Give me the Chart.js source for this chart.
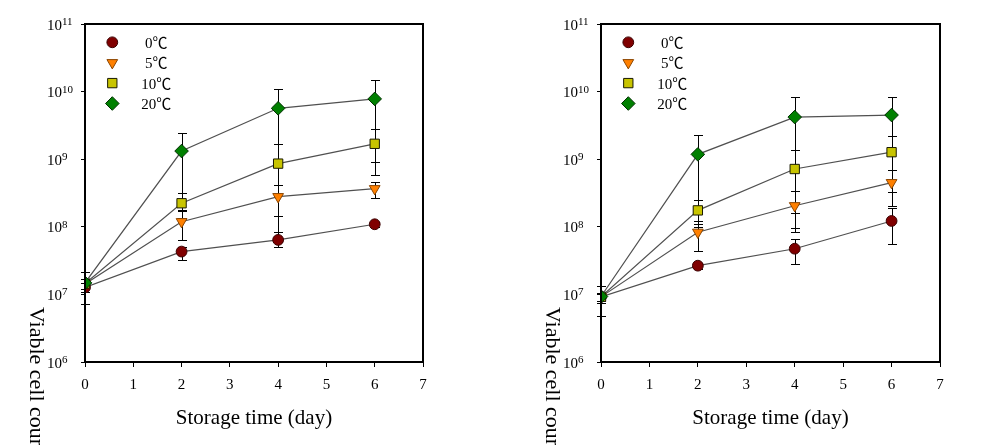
<!DOCTYPE html>
<html><head><meta charset="utf-8">
<script src="https://cdn.jsdelivr.net/npm/chart.js@4.4.0/dist/chart.umd.min.js"></script>
<style>
html,body{margin:0;padding:0;background:#fff;overflow:hidden;width:983px;height:445px}
#cA{position:absolute;left:0;top:0}
#cB{position:absolute;left:490px;top:0}
</style></head><body>
<canvas id="cA" width="490" height="445"></canvas>
<canvas id="cB" width="493" height="445"></canvas>
<script>
// ---------- data ----------
const days = [0, 2, 4, 6];
const seriesNames = ['0\u2103', '5\u2103', '10\u2103', '20\u2103'];
const xTickLabels = ['0', '1', '2', '3', '4', '5', '6', '7'];
const yTickExponents = [6, 7, 8, 9, 10, 11];
const xTitle = 'Storage time (day)';
const yTitle = 'Viable cell count (CFU/g)';

// Panel A (left)
const a0C  = [1.27e7, 4.3e7, 6.4e7, 1.09e8];
const a5C  = [1.43e7, 1.19e8, 2.79e8, 3.66e8];
const a10C = [1.45e7, 2.23e8, 8.6e8, 1.69e9];
const a20C = [1.48e7, 1.32e9, 5.66e9, 7.8e9];
const a0Lo  = [1.1e7, 3.23e7, 5.0e7, 1.0e8];
const a0Hi  = [1.45e7, 5.08e7, 8.3e7, 1.18e8];
const a5Lo  = [1.2e7, 6.4e7, 1.43e8, 2.64e8];
const a5Hi  = [1.7e7, 1.74e8, 4.15e8, 4.66e8];
const a10Lo = [1.2e7, 1.33e8, 6.0e7, 5.9e8];
const a10Hi = [1.7e7, 3.13e8, 1.66e9, 2.79e9];
const a20Lo = [7.2e6, 1.8e8, 4.1e8, 9.0e8];
const a20Hi = [2.17e7, 2.47e9, 1.1e10, 1.49e10];

// Panel B (right)
const b0C  = [9.2e6, 2.66e7, 4.74e7, 1.22e8];
const b5C  = [9.2e6, 8.3e7, 2.05e8, 4.5e8];
const b10C = [9.2e6, 1.75e8, 7.16e8, 1.27e9];
const b20C = [9.3e6, 1.18e9, 4.2e9, 4.5e9];
const b0Lo  = [7.4e6, 2.4e7, 2.8e7, 5.5e7];
const b0Hi  = [1.05e7, 2.9e7, 6.5e7, 1.89e8];
const b5Lo  = [8.0e6, 4.4e7, 9.5e7, 2.0e8];
const b5Hi  = [1.05e7, 1.22e8, 3.35e8, 7.0e8];
const b10Lo = [8.0e6, 1.0e8, 8.3e7, 3.25e8];
const b10Hi = [1.05e7, 2.49e8, 1.36e9, 2.18e9];
const b20Lo = [4.8e6, 1.1e8, 1.6e8, 7.0e8];
const b20Hi = [1.33e7, 2.25e9, 8.24e9, 8.4e9];

// ---------- styles ----------
const FONT = '"Liberation Serif", "Times New Roman", "Noto Sans CJK SC", serif';
const markerStyles = [
  {pointStyle: 'circle',  radius: 5.4, rotation: 0,   bg: '#800000', border: '#3a0000'},
  {pointStyle: 'triangle',radius: 6.2, rotation: 180, bg: '#ff8000', border: '#8a4500'},
  {pointStyle: 'rect',    radius: 6.6, rotation: 0,   bg: '#c8c400', border: '#1a1a00'},
  {pointStyle: 'rectRot', radius: 6.8, rotation: 0,   bg: '#008000', border: '#003000'}
];

function drawMarker(ctx, st, x, y) {
  ctx.save();
  ctx.fillStyle = st.bg; ctx.strokeStyle = st.border; ctx.lineWidth = 1;
  if (Chart.helpers && Chart.helpers.drawPoint) {
    Chart.helpers.drawPoint(ctx, {pointStyle: st.pointStyle, radius: st.radius, rotation: st.rotation, borderWidth: 1}, x, y);
  }
  ctx.restore();
}

const errorBarPlugin = {
  id: 'errbars',
  beforeDatasetsDraw(chart) {
    const ctx = chart.ctx, xs = chart.scales.x, ys = chart.scales.y;
    ctx.save();
    ctx.strokeStyle = '#000'; ctx.lineWidth = 1;
    chart.data.datasets.forEach(ds => {
      ds.data.forEach((p, i) => {
        const x = Math.round(xs.getPixelForValue(p.x)) + 0.5;
        const yl = Math.round(ys.getPixelForValue(ds.errLo[i])) + 0.5;
        const yh = Math.round(ys.getPixelForValue(ds.errHi[i])) + 0.5;
        ctx.beginPath();
        ctx.moveTo(x, yl); ctx.lineTo(x, yh);
        ctx.moveTo(x - 4.5, yl); ctx.lineTo(x + 4.5, yl);
        ctx.moveTo(x - 4.5, yh); ctx.lineTo(x + 4.5, yh);
        ctx.stroke();
      });
    });
    ctx.restore();
  }
};

const decorPlugin = {
  id: 'decor',
  afterDraw(chart) {
    const ctx = chart.ctx, ca = chart.chartArea, ys = chart.scales.y;
    const o = chart.options.plugins.decor;
    ctx.save();
    // frame
    ctx.strokeStyle = '#000'; ctx.lineWidth = 2;
    ctx.strokeRect(ca.left, ca.top, ca.right - ca.left, ca.bottom - ca.top);
    // y tick labels 10^n
    ctx.fillStyle = '#000'; ctx.textAlign = 'left'; ctx.textBaseline = 'alphabetic';
    yTickExponents.forEach(e => {
      const y = ys.getPixelForValue(Math.pow(10, e));
      ctx.font = '15px ' + FONT;
      const x0 = ca.left - 38;
      ctx.fillText('10', x0, y + 5.5);
      const w = ctx.measureText('10').width;
      ctx.font = '11px ' + FONT;
      ctx.fillText(String(e), x0 + w, y + 1);
    });
    // legend
    seriesNames.forEach((name, i) => {
      const y = ca.top + 18.3 + i * 20.4;
      drawMarker(ctx, markerStyles[i], ca.left + 27.3, y);
      ctx.font = '15px ' + FONT;
      ctx.fillStyle = '#000'; ctx.textAlign = 'center';
      ctx.fillText(name, ca.left + 71.3, y + 5.5);
    });
    // y axis title (rotated, reading downward)
    ctx.translate(o.yTitleX, 307);
    ctx.rotate(Math.PI / 2);
    ctx.font = '22px ' + FONT;
    ctx.textAlign = 'left'; ctx.textBaseline = 'alphabetic';
    ctx.fillText(yTitle, 0, 0);
    ctx.restore();
  }
};

function makeChart(id, vals, los, his, yAxisWidth, rightPad, yTitleX) {
  const order = [3, 2, 1, 0];
  const datasets = vals.map((v, s) => ({
    label: seriesNames[s],
    data: days.map((d, i) => ({x: d, y: v[i]})),
    errLo: los[s], errHi: his[s],
    borderColor: '#505050', borderWidth: 1.2,
    pointStyle: markerStyles[s].pointStyle,
    pointRadius: markerStyles[s].radius,
    pointRotation: markerStyles[s].rotation,
    pointBackgroundColor: markerStyles[s].bg,
    pointBorderColor: markerStyles[s].border,
    pointBorderWidth: 1,
    fill: false, tension: 0,
    order: order[s]
  }));
  return new Chart(document.getElementById(id), {
    type: 'line',
    data: {datasets},
    options: {
      responsive: false, animation: false,
      layout: {padding: {top: 24, right: rightPad, left: 0, bottom: 0}},
      plugins: {legend: {display: false}, tooltip: {enabled: false}, decor: {yTitleX}},
      scales: {
        x: {
          type: 'linear', min: 0, max: 7,
          afterBuildTicks: sc => { sc.ticks = xTickLabels.map((t, i) => ({value: i})); },
          afterFit: sc => { sc.height = 83; },
          ticks: {callback: v => xTickLabels[v], color: '#000', padding: 9, maxRotation: 0,
                  font: {family: FONT, size: 15}},
          grid: {display: true, drawOnChartArea: false, drawTicks: true, tickLength: 5, color: '#000', lineWidth: 1},
          border: {display: false},
          title: {display: true, text: xTitle, color: '#000', font: {family: FONT, size: 21},
                  padding: {top: 0, bottom: 14}}
        },
        y: {
          type: 'logarithmic', min: 1e6, max: 1e11,
          afterBuildTicks: sc => { sc.ticks = yTickExponents.map(e => ({value: Math.pow(10, e)})); },
          afterFit: sc => { sc.width = yAxisWidth; },
          ticks: {display: false},
          grid: {display: true, drawOnChartArea: false, drawTicks: true, tickLength: 4, color: '#000', lineWidth: 1},
          border: {display: false}
        }
      }
    },
    plugins: [errorBarPlugin, decorPlugin]
  });
}

makeChart('cA', [a0C, a5C, a10C, a20C], [a0Lo, a5Lo, a10Lo, a20Lo], [a0Hi, a5Hi, a10Hi, a20Hi], 85, 67, 30);
makeChart('cB', [b0C, b5C, b10C, b20C], [b0Lo, b5Lo, b10Lo, b20Lo], [b0Hi, b5Hi, b10Hi, b20Hi], 111, 43, 56);
</script>
</body></html>
